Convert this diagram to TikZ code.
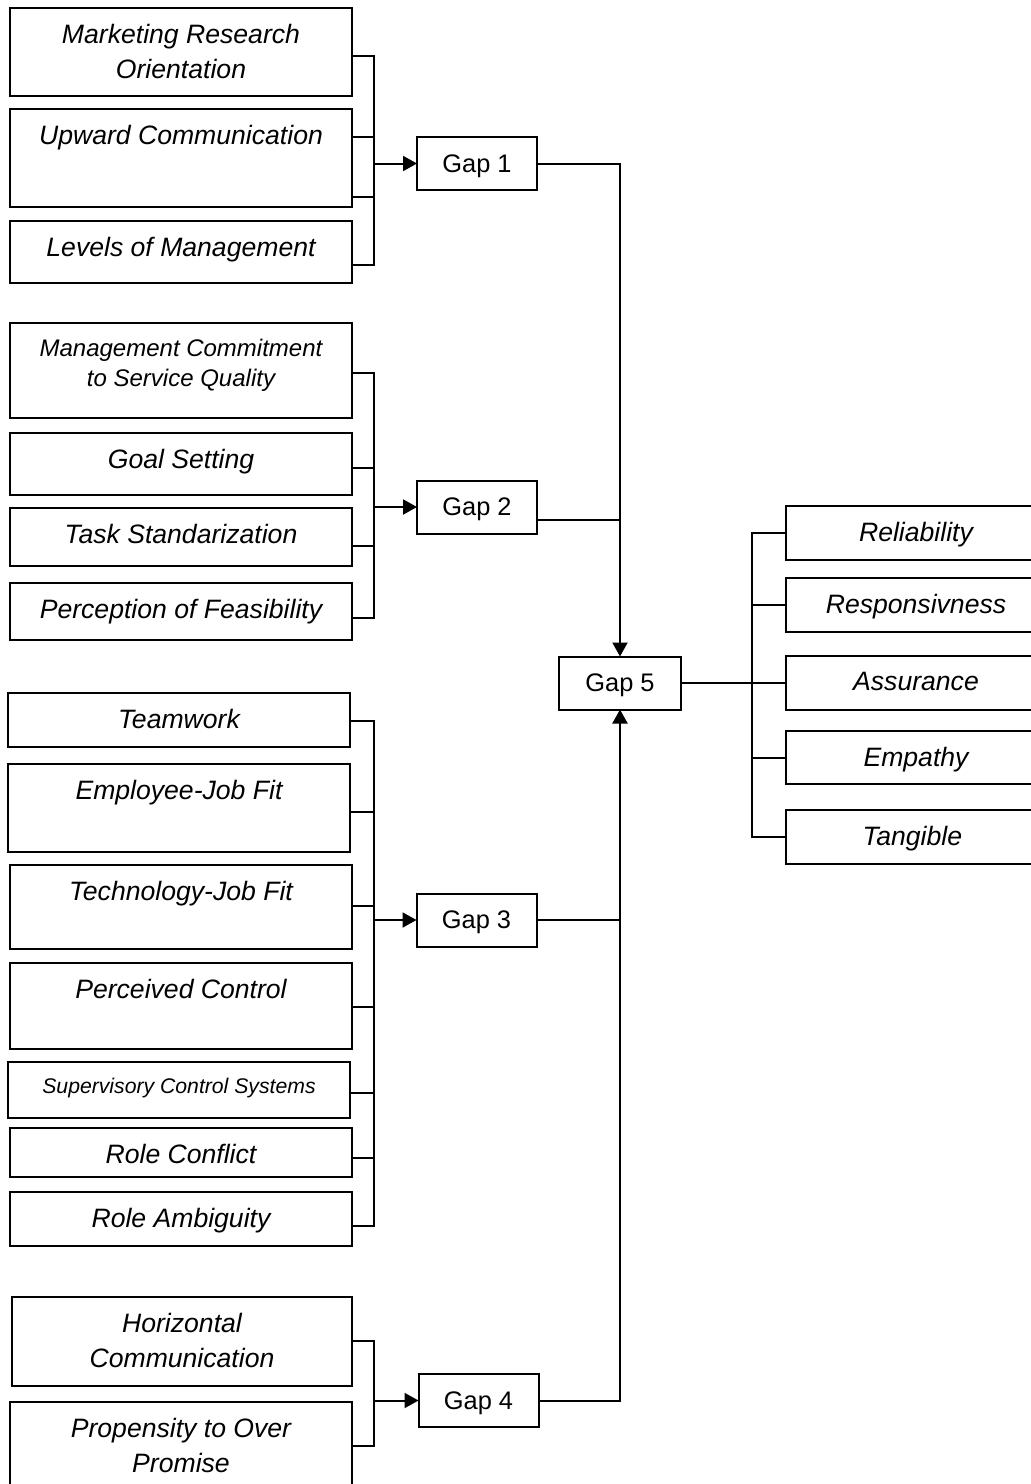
\documentclass[tikz,border=0pt]{standalone}
\usepackage{fontspec}
\setmainfont{Liberation Sans}
\usetikzlibrary{positioning,arrows.meta}

\tikzset{
  factor/.style={draw,line width=1pt,anchor=north west,inner sep=0pt,outer sep=0pt},
  bigtext/.style={font=\fontsize{13.3}{17.5}\selectfont\itshape},
  midtext/.style={font=\fontsize{12}{15}\selectfont\itshape},
  smalltext/.style={font=\fontsize{10.6}{13}\selectfont\itshape},
  gap/.style={draw,line width=1pt,minimum width=60pt,minimum height=26.5pt,inner sep=0pt,outer sep=0pt,text depth=0pt,font=\fontsize{12.7}{15}\selectfont},
  link/.style={line width=1pt},
  into/.style={line width=1pt,-{Triangle[length=7pt,width=7.5pt]}}
}

\begin{document}
\begin{tikzpicture}[x=0.5pt,y=-0.5pt]
\useasboundingbox (0,0) rectangle (1030,1484);

% the factor boxes, text sits near the top
\foreach \n/\xa/\ya/\xb/\yb/\f/\txt in {
	mro/10/8/352/96/bigtext/{Marketing Research\\Orientation},
	upc/10/109/352/207/bigtext/{Upward Communication},
	lom/10/221/352/283/bigtext/{Levels of Management},
	mcs/10/323/352/418/midtext/{Management Commitment\\to Service Quality},
	gls/10/433/352/495/bigtext/{Goal Setting},
	tst/10/508/352/566/bigtext/{Task Standarization},
	pof/10/583/352/640/bigtext/{Perception of Feasibility},
	tmw/8/693/350/747/bigtext/{Teamwork},
	ejf/8/764/350/852/bigtext/{Employee-Job Fit},
	tjf/10/865/352/949/bigtext/{Technology-Job Fit},
	pct/10/963/352/1049/bigtext/{Perceived Control},
	scs/8/1062/350/1118/smalltext/{Supervisory Control Systems},
	rcf/10/1128/352/1177/bigtext/{Role Conflict},
	rab/10/1192/352/1246/bigtext/{Role Ambiguity},
	hzc/12/1297/352/1386/bigtext/{Horizontal\\Communication},
	otp/10/1402/352/1490/bigtext/{Propensity to Over\\Promise},
	rel/786/506/1046/560/bigtext/{Reliability},
	rsp/786/578/1046/632/bigtext/{Responsivness},
	asr/786/656/1046/710/bigtext/{Assurance},
	emp/786/731/1046/784/bigtext/{Empathy},
	tan/786/810/1046/864/bigtext/{Tangible}
}{
    \node[factor,minimum width={(\xb-\xa)*0.5pt},minimum height={(\yb-\ya)*0.5pt}] (\n) at (\xa,\ya) {};
    \node[\f,align=center,inner sep=0pt,below=8pt of \n.north] (\n-t) {\txt};
}

% the gaps
\node[gap] (gap1) at (477,163.5) {Gap 1};
\node[gap] (gap2) at (477,507) {Gap 2};
\node[gap] (gap3) at (476.5,920) {Gap 3};
\node[gap] (gap4) at (478.5,1400.5) {Gap 4};
\node[gap,minimum width=61pt] (gap5) at (620,683) {Gap 5};

\coordinate (j1) at ([xshift=-21.5pt]gap1.west);
\coordinate (j2) at ([xshift=-21.5pt]gap2.west);
\coordinate (j3) at ([xshift=-21.5pt]gap3.west);
\coordinate (j4) at ([xshift=-22.5pt]gap4.west);
\coordinate (j5) at ([xshift=35.5pt]gap5.east);

% brackets into the gaps
\foreach \n/\y/\j in {mro/56/j1, upc/137/j1, upc/197/j1, lom/265/j1,
	mcs/373/j2, gls/468/j2, tst/546/j2, pof/618/j2,
	tmw/721/j3, ejf/812/j3, tjf/906/j3, pct/1007/j3, scs/1093/j3, rcf/1158/j3, rab/1226/j3,
	hzc/1341/j4, otp/1446/j4}
    \draw[link] (\n.east |- 0,\y) -| (\j);

\foreach \g in {1,2,3,4}
    \draw[into] (j\g) -- (gap\g.west);

% gaps 1-4 into gap 5
\draw[into] (gap1.east) -| (gap5.north);
\draw[link] ([yshift=-6.5pt]gap2.east) -- ([yshift=-6.5pt]gap2.east -| gap5.north);
\draw[link] (gap3.east) -- (gap3.east -| gap5.south);
\draw[into] (gap4.east) -| (gap5.south);

% dimensions of gap 5
\draw[link] (gap5.east) -- (asr.west);
\foreach \n in {rel,rsp,asr,emp,tan}
    \draw[link] (\n.west) -| (j5);

\end{tikzpicture}
\end{document}
